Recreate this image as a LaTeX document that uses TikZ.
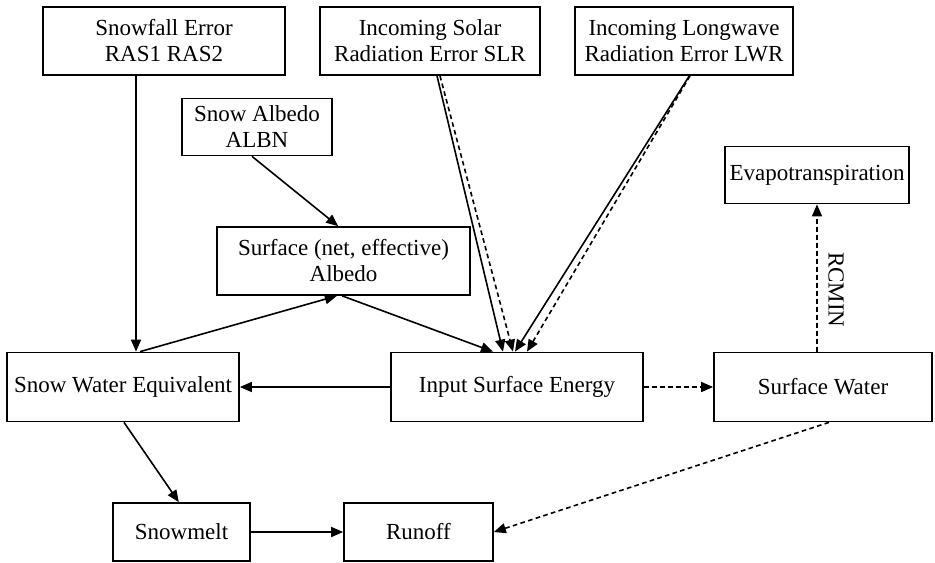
\documentclass[tikz,border=0pt]{standalone}
\usepackage{fontspec}
\setmainfont{Liberation Serif}
\usetikzlibrary{arrows.meta}

\begin{document}
\begin{tikzpicture}[x=0.75pt,y=0.75pt,yscale=-1,xscale=1,
    box/.style={draw, line width=1.3pt, align=center, inner sep=0pt, font=\fontsize{17.25}{19.5}\selectfont},
    arr/.style={line width=1.2pt, -{Triangle[length=9pt,width=7.5pt]}},
    darr/.style={arr, dash pattern=on 3.5pt off 2.5pt}]
    \useasboundingbox (0,0) rectangle (935,562);

    % Boxes, top row
    \node[box, minimum width=181.5pt, minimum height=51pt] (snowfall) at (164,41) {Snowfall Error\\RAS1 RAS2};
    \node[box, minimum width=165pt, minimum height=51pt] (solar) at (430,41) {Incoming Solar\\Radiation Error SLR};
    \node[box, minimum width=163.5pt, minimum height=51pt] (longwave) at (684,41) {Incoming Longwave\\Radiation Error LWR};
    % Boxes, albedo and evapotranspiration
    \node[box, minimum width=112.5pt, minimum height=42.75pt] (snowalb) at (257,127) {Snow Albedo\\ALBN};
    \node[box, minimum width=189.75pt, minimum height=51pt] (surfalb) at (343.5,261) {Surface (net, effective)\\Albedo};
    \node[box, minimum width=138pt, minimum height=42.75pt] (evapo) at (817,175) {Evapotranspiration};
    % Boxes, middle row
    \node[box, minimum width=174pt, minimum height=51.75pt] (swe) at (123,387) {Snow Water Equivalent};
    \node[box, minimum width=189pt, minimum height=51.75pt] (energy) at (517,387) {Input Surface Energy};
    \node[box, minimum width=163.5pt, minimum height=51.75pt] (water) at (823,387) {Surface Water};
    % Boxes, bottom row
    \node[box, minimum width=102.75pt, minimum height=43.5pt] (melt) at (181.5,532) {Snowmelt};
    \node[box, minimum width=111.75pt, minimum height=43.5pt] (runoff) at (418.5,532) {Runoff};

    % Solid connectors
    \draw[arr] ([xshift=-21pt]snowfall.south) -- ([xshift=9.75pt]swe.north);
    \draw[arr] ([xshift=-3.75pt]snowalb.south) -- ([xshift=-4pt]surfalb.north);
    \draw[arr] ([xshift=12.75pt]swe.north) -- ([xshift=-5pt]surfalb.south);
    \draw[arr] ([xshift=-1pt]surfalb.south) -- ([xshift=-18pt]energy.north);
    \draw[arr] ([xshift=5.25pt]solar.south) -- ([xshift=-10.5pt]energy.north);
    \draw[arr] ([xshift=4pt]longwave.south) -- ([xshift=-1.5pt]energy.north);
    \draw[arr] (energy.west) -- (swe.east);
    \draw[arr] ([xshift=0.75pt]swe.south) -- ([xshift=-2pt]melt.north);
    \draw[arr] (melt.east) -- (runoff.west);

    % Dashed connectors
    \draw[darr] ([xshift=7.5pt]solar.south) -- ([xshift=-3pt]energy.north);
    \draw[darr] ([xshift=4.5pt]longwave.south) -- ([xshift=7.5pt]energy.north);
    \draw[darr] (energy.east) -- (water.west);
    \draw[darr] ([xshift=-4.5pt]water.north) -- node[pos=0.42, anchor=south, rotate=-90, inner sep=8pt, font=\fontsize{17.25}{19.5}\selectfont] (rcmin) {RCMIN} (evapo.south);
    \draw[darr] ([xshift=4.5pt]water.south) -- (runoff.east);

\end{tikzpicture}
\end{document}
